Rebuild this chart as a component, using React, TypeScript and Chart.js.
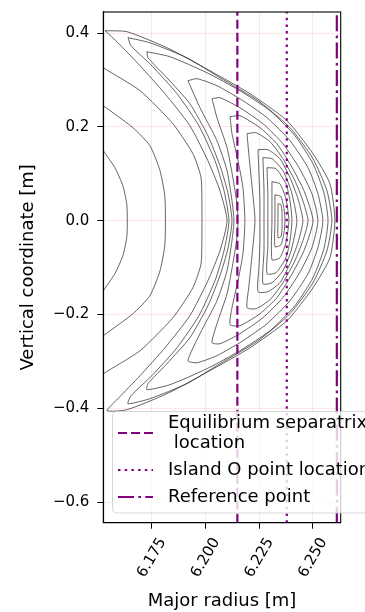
import React, { useEffect, useRef } from 'react';
import { Chart, registerables } from 'chart.js';

Chart.register(...registerables);

// ---------- axes ----------
const xRange = [6.1525, 6.263];
const yRange = [-0.6439, 0.445];
const xTickValues = [6.175, 6.2, 6.225, 6.25];
const xTickLabels = ['6.175', '6.200', '6.225', '6.250'];
const yTickValues = [0.4, 0.2, 0.0, -0.2, -0.4, -0.6];
const yTickLabels = ['0.4', '0.2', '0.0', '\u22120.2', '\u22120.4', '\u22120.6'];
const xTitle = 'Major radius [m]';
const yTitle = 'Vertical coordinate [m]';

// ---------- vertical reference lines ----------
const separatrixR = 6.2149;
const islandOR = 6.2379;
const referenceR = 6.2612;
const legendLabels = ['Equilibrium separatrix\n location', 'Island O point location', 'Reference point'];

// ---------- contour lines [R, Z] ----------
const outer1: number[][] = [[6.15, 0.1663], [6.1525, 0.1493], [6.1579, 0.113], [6.1616, 0.0746], [6.1635, 0.032], [6.1635, -0.032], [6.1616, -0.0746], [6.1579, -0.113], [6.1525, -0.1493], [6.15, -0.1663]];
const outer2: number[][] = [[6.15, 0.2537], [6.1525, 0.2452], [6.1663, 0.1983], [6.1742, 0.1599], [6.1789, 0.1066], [6.1812, 0.049], [6.1812, -0.049], [6.1789, -0.1066], [6.1742, -0.1599], [6.1663, -0.1983], [6.1525, -0.2452], [6.15, -0.2537]];
const outer3: number[][] = [[6.15, 0.3362], [6.1525, 0.3262], [6.1696, 0.2772], [6.1849, 0.2068], [6.1942, 0.1429], [6.198, 0.0917], [6.1984, 0.0213], [6.1984, -0.0213], [6.198, -0.0917], [6.1942, -0.1429], [6.1849, -0.2068], [6.1696, -0.2772], [6.1525, -0.3262], [6.15, -0.3362]];

const island1: number[][] = [[6.1533, 0.4051], [6.1635, 0.403], [6.1821, 0.3689], [6.2021, 0.3198], [6.2208, 0.2708], [6.238, 0.2132], [6.2501, 0.1429], [6.258, 0.0789], [6.2603, 0],
  [6.258, -0.0789], [6.2501, -0.1429], [6.238, -0.2132], [6.2208, -0.2708], [6.2021, -0.3198], [6.1821, -0.3689], [6.1635, -0.403], [6.1542, -0.4051],
  [6.1593, -0.3795], [6.1696, -0.3305], [6.1812, -0.2708], [6.1928, -0.2026], [6.2012, -0.1279], [6.2068, -0.064], [6.2101, 0],
  [6.2068, 0.064], [6.2012, 0.1279], [6.1928, 0.2026], [6.1812, 0.2708], [6.1696, 0.3305], [6.1593, 0.3795], [6.1533, 0.4051]];
const island2: number[][] = [[6.164, 0.3902], [6.1742, 0.3795], [6.1914, 0.3475], [6.2068, 0.3049], [6.2245, 0.2559], [6.2394, 0.1983], [6.2501, 0.1322], [6.2566, 0.064], [6.2589, 0],
  [6.2566, -0.064], [6.2501, -0.1322], [6.2394, -0.1983], [6.2245, -0.2559], [6.2068, -0.3049], [6.1914, -0.3475], [6.1742, -0.3795], [6.164, -0.3902],
  [6.1654, -0.3731], [6.1751, -0.3305], [6.1868, -0.2708], [6.197, -0.2026], [6.2045, -0.1279], [6.2087, -0.064], [6.211, 0],
  [6.2087, 0.064], [6.2045, 0.1279], [6.197, 0.2026], [6.1868, 0.2708], [6.1751, 0.3305], [6.1654, 0.3731], [6.164, 0.3902]];
const island3: number[][] = [[6.1728, 0.3603], [6.1835, 0.3497], [6.2007, 0.3156], [6.2161, 0.2772], [6.2301, 0.2345], [6.2417, 0.1812], [6.2501, 0.1215], [6.2552, 0.0597], [6.2571, 0],
  [6.2552, -0.0597], [6.2501, -0.1215], [6.2417, -0.1812], [6.2301, -0.2345], [6.2161, -0.2772], [6.2007, -0.3156], [6.1835, -0.3497], [6.1728, -0.3603],
  [6.1733, -0.3475], [6.1821, -0.3049], [6.1928, -0.2495], [6.2012, -0.1812], [6.2068, -0.1173], [6.2105, -0.0597], [6.2124, 0],
  [6.2105, 0.0597], [6.2068, 0.1173], [6.2012, 0.1812], [6.1928, 0.2495], [6.1821, 0.3049], [6.1733, 0.3475], [6.1728, 0.3603]];
const island4: number[][] = [[6.1919, 0.2985], [6.1961, 0.3028], [6.2054, 0.2878], [6.2175, 0.2559], [6.2287, 0.2196], [6.2394, 0.1706], [6.2478, 0.113], [6.2524, 0.0576], [6.2547, 0],
  [6.2524, -0.0576], [6.2478, -0.113], [6.2394, -0.1706], [6.2287, -0.2196], [6.2175, -0.2559], [6.2054, -0.2878], [6.1961, -0.3028], [6.1919, -0.2985],
  [6.1975, -0.2409], [6.2054, -0.1706], [6.2101, -0.1066], [6.2124, -0.0426], [6.2133, 0],
  [6.2124, 0.0426], [6.2101, 0.1066], [6.2054, 0.1706], [6.1975, 0.2409], [6.1919, 0.2985]];
const island5: number[][] = [[6.2031, 0.2601], [6.2068, 0.2623], [6.2161, 0.2409], [6.2268, 0.2068], [6.2361, 0.1642], [6.2436, 0.113], [6.2496, 0.0576], [6.2524, 0],
  [6.2496, -0.0576], [6.2436, -0.113], [6.2361, -0.1642], [6.2268, -0.2068], [6.2161, -0.2409], [6.2068, -0.2623], [6.2031, -0.2601],
  [6.2054, -0.2196], [6.2101, -0.1557], [6.2128, -0.0917], [6.2147, -0.0362], [6.2152, 0],
  [6.2147, 0.0362], [6.2128, 0.0917], [6.2101, 0.1557], [6.2054, 0.2196], [6.2031, 0.2601]];
const island6: number[][] = [[6.2115, 0.2217], [6.2161, 0.2239], [6.2254, 0.1983], [6.2333, 0.1642], [6.2399, 0.1173], [6.2459, 0.064], [6.2501, 0],
  [6.2459, -0.064], [6.2399, -0.1173], [6.2333, -0.1642], [6.2254, -0.1983], [6.2161, -0.2239], [6.2115, -0.2217],
  [6.2124, -0.1855], [6.2152, -0.1279], [6.2175, -0.0704], [6.2184, 0],
  [6.2175, 0.0704], [6.2152, 0.1279], [6.2124, 0.1855], [6.2115, 0.2217]];
const island7: number[][] = [[6.2194, 0.1855], [6.2236, 0.1876], [6.2301, 0.1684], [6.2361, 0.1322], [6.2417, 0.0853], [6.2454, 0.0426], [6.2478, 0],
  [6.2454, -0.0426], [6.2417, -0.0853], [6.2361, -0.1322], [6.2301, -0.1684], [6.2236, -0.1876], [6.2194, -0.1855],
  [6.2203, -0.1386], [6.2217, -0.0746], [6.2231, 0],
  [6.2217, 0.0746], [6.2203, 0.1386], [6.2194, 0.1855]];
const island8: number[][] = [[6.2245, 0.1514], [6.2291, 0.1514], [6.2347, 0.1322], [6.2394, 0.0917], [6.2431, 0.0469], [6.2454, 0],
  [6.2431, -0.0469], [6.2394, -0.0917], [6.2347, -0.1322], [6.2291, -0.1514], [6.2245, -0.1514],
  [6.225, -0.0959], [6.2254, -0.0426], [6.2254, 0],
  [6.2254, 0.0426], [6.225, 0.0959], [6.2245, 0.1514]];
const island9: number[][] = [[6.2268, 0.1343], [6.231, 0.1322], [6.2361, 0.1066], [6.2399, 0.064], [6.2426, 0],
  [6.2399, -0.064], [6.2361, -0.1066], [6.231, -0.1322], [6.2268, -0.1343],
  [6.2273, -0.064], [6.2273, 0], [6.2273, 0.064], [6.2268, 0.1343]];
const island10: number[][] = [[6.2287, 0.113], [6.2329, 0.1109], [6.2375, 0.0789], [6.2394, 0.0426], [6.2403, 0],
  [6.2394, -0.0426], [6.2375, -0.0789], [6.2329, -0.1109], [6.2287, -0.113],
  [6.2291, -0.0533], [6.2291, 0], [6.2291, 0.0533], [6.2287, 0.113]];
const island11: number[][] = [[6.231, 0.0832], [6.2347, 0.0789], [6.2375, 0.0469], [6.2389, 0],
  [6.2375, -0.0469], [6.2347, -0.0789], [6.231, -0.0832], [6.231, 0], [6.231, 0.0832]];
const island12: number[][] = [[6.2324, 0.0554], [6.2352, 0.0512], [6.2366, 0.0256], [6.2371, 0],
  [6.2366, -0.0256], [6.2352, -0.0512], [6.2324, -0.0554], [6.2324, 0], [6.2324, 0.0554]];
const island13: number[][] = [[6.2338, 0.0362], [6.2352, 0.0341], [6.2357, 0.0171], [6.2357, 0],
  [6.2357, -0.0171], [6.2352, -0.0341], [6.2338, -0.0362], [6.2338, 0], [6.2338, 0.0362]];

const contourLines = [outer1, outer2, outer3, island1, island2, island3, island4, island5, island6, island7, island8, island9, island10, island11, island12, island13];

const PURPLE = '#800080';
const FONT = '"DejaVu Sans", sans-serif';
const dashStyles = [[9, 4], [2.5, 4.2], [16, 4.3, 2.7, 4.3]];

const frameAndLegend = {
  id: 'frameAndLegend',
  afterDraw(chart: any) {
    const { ctx, chartArea: a } = chart;
    ctx.save();
    ctx.strokeStyle = '#000';
    ctx.lineWidth = 1.1;
    ctx.setLineDash([]);
    ctx.strokeRect(a.left, a.top, a.right - a.left, a.bottom - a.top);

    // legend box
    const bx = 112.5, by = 411.5, bw = 300, bh = 101.5, r = 4;
    ctx.beginPath();
    ctx.moveTo(bx + r, by);
    ctx.lineTo(bx + bw - r, by);
    ctx.arcTo(bx + bw, by, bx + bw, by + r, r);
    ctx.lineTo(bx + bw, by + bh - r);
    ctx.arcTo(bx + bw, by + bh, bx + bw - r, by + bh, r);
    ctx.lineTo(bx + r, by + bh);
    ctx.arcTo(bx, by + bh, bx, by + bh - r, r);
    ctx.lineTo(bx, by + r);
    ctx.arcTo(bx, by, bx + r, by, r);
    ctx.closePath();
    ctx.fillStyle = 'rgba(255,255,255,0.8)';
    ctx.fill();
    ctx.strokeStyle = 'rgba(204,204,204,0.8)';
    ctx.lineWidth = 1;
    ctx.stroke();

    const handleY = [433, 470, 497];
    const textY = [[423, 443], [470], [497]];
    ctx.font = '18px ' + FONT;
    ctx.textBaseline = 'middle';
    ctx.textAlign = 'left';
    legendLabels.forEach((lab, i) => {
      ctx.beginPath();
      ctx.strokeStyle = PURPLE;
      ctx.lineWidth = 2.2;
      ctx.setLineDash(dashStyles[i]);
      ctx.moveTo(118, handleY[i]);
      ctx.lineTo(153, handleY[i]);
      ctx.stroke();
      ctx.fillStyle = '#000';
      lab.split('\n').forEach((ln, j) => ctx.fillText(ln, 168, textY[i][j]));
    });
    ctx.restore();
  },
};

export default function App() {
  const ref = useRef<HTMLCanvasElement | null>(null);
  useEffect(() => {
    if (!ref.current) return;
    Chart.defaults.font.family = FONT;
    Chart.defaults.color = '#000';
    const vLine = (r: number, dash: number[]) => ({
      data: [{ x: r, y: yRange[0] }, { x: r, y: yRange[1] }],
      showLine: true,
      borderColor: PURPLE,
      borderWidth: 2.2,
      borderDash: dash,
      pointRadius: 0,
      clip: 0,
    });
    const datasets: any[] = [
      vLine(separatrixR, dashStyles[0]),
      vLine(islandOR, dashStyles[1]),
      vLine(referenceR, dashStyles[2]),
      ...contourLines.map((c) => ({
        data: c.map((p) => ({ x: p[0], y: p[1] })),
        showLine: true,
        borderColor: 'rgba(40,40,40,0.8)',
        borderWidth: 0.9,
        pointRadius: 0,
        tension: 0.2,
        clip: 0,
      })),
    ];
    const chart = new Chart(ref.current, {
      type: 'scatter',
      data: { datasets },
      options: {
        animation: false,
        responsive: false,
        maintainAspectRatio: false,
        events: [],
        layout: { padding: { left: 0, right: 24.3, top: 12, bottom: 0 } },
        plugins: { legend: { display: false }, tooltip: { enabled: false } },
        scales: {
          x: {
            type: 'linear',
            min: xRange[0],
            max: xRange[1],
            afterBuildTicks: (s: any) => { s.ticks = xTickValues.map((v) => ({ value: v })); },
            afterFit: (s: any) => { s.height = 89.3; s.paddingLeft = 0; s.paddingRight = 0; },
            ticks: {
              autoSkip: false,
              minRotation: 60,
              maxRotation: 60,
              padding: 6,
              labelOffset: 11,
              font: { size: 15 },
              color: '#000',
              callback: (_v: any, i: number) => xTickLabels[i],
            },
            grid: { color: 'rgba(255,0,0,0.1)', lineWidth: 1, tickLength: 6, tickColor: '#000', tickWidth: 1 },
            border: { display: true, color: '#000', width: 1.1 },
            title: { display: true, text: xTitle, font: { size: 18 }, color: '#000', padding: { top: 0, bottom: 0 } },
          },
          y: {
            type: 'linear',
            min: yRange[0],
            max: yRange[1],
            afterBuildTicks: (s: any) => { s.ticks = yTickValues.map((v) => ({ value: v })); },
            afterFit: (s: any) => { s.width = 103.3; s.paddingTop = 0; s.paddingBottom = 0; },
            ticks: {
              autoSkip: false,
              padding: 8,
              font: { size: 15 },
              color: '#000',
              callback: (_v: any, i: number) => yTickLabels[i],
            },
            grid: { color: 'rgba(255,0,0,0.1)', lineWidth: 1, tickLength: 6, tickColor: '#000', tickWidth: 1 },
            border: { display: true, color: '#000', width: 1.1 },
            title: { display: true, text: yTitle, font: { size: 18 }, color: '#000', padding: { top: 17.7, bottom: 0 } },
          },
        },
      },
      plugins: [frameAndLegend],
    });
    return () => chart.destroy();
  }, []);
  return (
    <div style={{ position: 'absolute', left: 0, top: 0, width: 365, height: 612 }}>
      <canvas ref={ref} width={365} height={612} style={{ width: 365, height: 612 }} />
    </div>
  );
}
